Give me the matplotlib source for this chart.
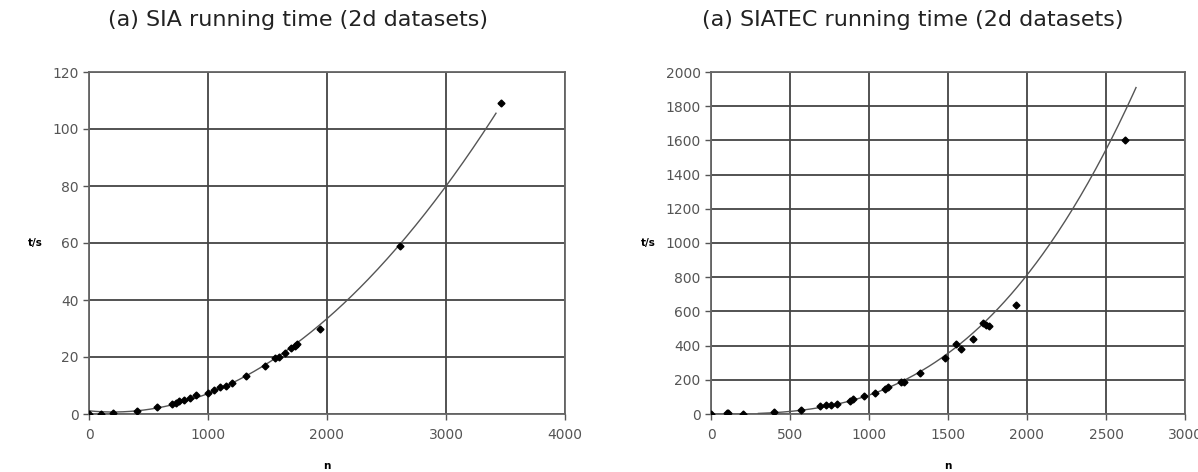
import numpy as np
import matplotlib
matplotlib.use("Agg")
import matplotlib.pyplot as plt

# SIA running time data (n, t/s)
sia_n = [0, 100, 200, 400, 570, 700, 730, 760, 800, 850, 900, 1000, 1050, 1100,
         1150, 1200, 1320, 1480, 1560, 1600, 1650, 1700, 1730, 1750, 1940, 2610, 3460]
sia_t = [0, 0.1, 0.3, 1, 2.5, 3.5, 4, 4.5, 5, 5.5, 6.5, 7.5, 8.5, 9.5,
         10, 11, 13.5, 17, 19.5, 20, 21.5, 23, 24, 24.5, 30, 59, 109]

# SIATEC running time data (n, t/s)
siatec_n = [0, 100, 110, 200, 400, 570, 690, 730, 760, 800, 880, 900, 970, 1040,
            1100, 1120, 1200, 1220, 1320, 1480, 1550, 1580, 1660, 1720, 1740, 1760, 1930, 2620]
siatec_t = [0, 3, 3, 2, 10, 25, 45, 50, 55, 60, 75, 85, 105, 125,
            145, 155, 185, 190, 240, 330, 410, 380, 440, 530, 520, 515, 640, 1600]

# SIATEC power trendline t = a * n^b, drawn over n range
siatec_trend_a = 2.53e-7
siatec_trend_b = 2.88
siatec_trend_range = (300, 2690)

titles = ["(a) SIA running time (2d datasets)", "(a) SIATEC running time (2d datasets)"]

fig = plt.figure(figsize=(11.98, 4.72), dpi=100)
ax1 = fig.add_axes([89/1198, 1-414/472, (565-89)/1198, (414-72)/472])
ax2 = fig.add_axes([711/1198, 1-414/472, (1185-711)/1198, (414-72)/472])

def style(ax, xlim, xticks, ylim, yticks):
    ax.set_xlim(*xlim)
    ax.set_ylim(*ylim)
    ax.set_xticks(xticks)
    ax.set_yticks(yticks)
    ax.grid(True, color="#444444", lw=1.3)
    ax.set_axisbelow(True)
    for s in ax.spines.values():
        s.set_color("#666666")
        s.set_linewidth(1.3)
    ax.tick_params(labelsize=10, colors="#555555", length=4, width=1.0)
    ax.tick_params(axis="x", pad=6)

# left
c1 = np.polyfit(sia_n, sia_t, 2)
xs1 = np.linspace(0, 3420, 300)
ax1.plot(xs1, np.polyval(c1, xs1), color="#555555", lw=1.0, zorder=3)
ax1.plot(sia_n, sia_t, "D", color="black", ms=3.5, zorder=4)
style(ax1, (0, 4000), [0, 1000, 2000, 3000, 4000], (0, 120), range(0, 121, 20))

# right
xs2 = np.linspace(*siatec_trend_range, 300)
ax2.plot(xs2, siatec_trend_a * xs2 ** siatec_trend_b, color="#555555", lw=1.0, zorder=3)
ax2.plot(siatec_n, siatec_t, "D", color="black", ms=3.5, zorder=4)
style(ax2, (0, 3000), [0, 500, 1000, 1500, 2000, 2500, 3000], (0, 2000), range(0, 2001, 200))

for ax, t, tx in zip((ax1, ax2), titles, (0.439, 0.426)):
    ax.set_title(t, fontsize=16, color="#222222", pad=33, x=tx)
    ax.set_ylabel("t/s", fontsize=7.5, rotation=0, labelpad=12, va="center", fontweight="bold")
    ax.set_xlabel("n", fontsize=7.5, labelpad=14, fontweight="bold")

fig.savefig("out.png", dpi=100)
